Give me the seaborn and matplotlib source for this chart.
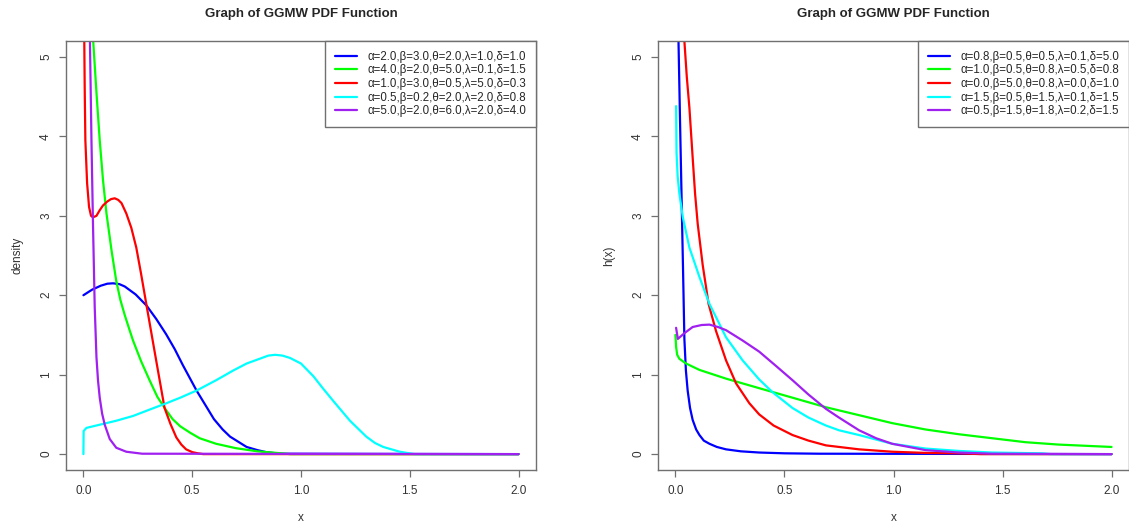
import matplotlib
matplotlib.use("Agg")
import matplotlib.pyplot as plt
import seaborn as sns

# ---- left panel: density curves ----
left_labels = [
    "α=2.0,β=3.0,θ=2.0,λ=1.0,δ=1.0",
    "α=4.0,β=2.0,θ=5.0,λ=0.1,δ=1.5",
    "α=1.0,β=3.0,θ=0.5,λ=5.0,δ=0.3",
    "α=0.5,β=0.2,θ=2.0,λ=2.0,δ=0.8",
    "α=5.0,β=2.0,θ=6.0,λ=2.0,δ=4.0",
]
l_blue_x = [0, 0.04, 0.08, 0.11, 0.136, 0.165, 0.19, 0.24, 0.29, 0.335, 0.38, 0.42, 0.457, 0.52, 0.56, 0.60, 0.64, 0.674, 0.75, 0.80, 0.84, 0.9, 2.0]
l_blue_y = [2.0, 2.07, 2.12, 2.145, 2.15, 2.14, 2.11, 2.01, 1.87, 1.70, 1.51, 1.32, 1.12, 0.80, 0.62, 0.44, 0.31, 0.22, 0.09, 0.05, 0.025, 0.005, 0]
l_green_x = [0.035, 0.045, 0.06, 0.075, 0.09, 0.106, 0.13, 0.151, 0.17, 0.19, 0.21, 0.228, 0.265, 0.304, 0.34, 0.381, 0.41, 0.445, 0.49, 0.534, 0.61, 0.70, 0.80, 0.91, 0.95, 2.0]
l_green_y = [5.8, 5.2, 4.55, 3.95, 3.45, 3.03, 2.55, 2.18, 1.94, 1.75, 1.58, 1.43, 1.17, 0.93, 0.72, 0.55, 0.44, 0.35, 0.27, 0.20, 0.13, 0.075, 0.035, 0.01, 0, 0]
l_red_x = [0.0, 0.004, 0.006, 0.009, 0.017, 0.026, 0.035, 0.044, 0.06, 0.075, 0.09, 0.11, 0.127, 0.144, 0.16, 0.175, 0.197, 0.22, 0.243, 0.265, 0.289, 0.335, 0.373, 0.40, 0.427, 0.45, 0.472, 0.50, 0.526, 0.55, 2.0]
l_red_y = [6.0, 5.2, 4.6, 3.95, 3.41, 3.11, 3.0, 2.98, 3.0, 3.07, 3.13, 3.18, 3.21, 3.22, 3.20, 3.16, 3.03, 2.85, 2.60, 2.27, 1.89, 1.17, 0.58, 0.38, 0.21, 0.12, 0.06, 0.025, 0.01, 0.0, 0]
l_cyan_x = [0.0, 0.001, 0.014, 0.075, 0.151, 0.228, 0.304, 0.381, 0.445, 0.52, 0.61, 0.687, 0.75, 0.79, 0.82, 0.85, 0.881, 0.915, 0.95, 1.0, 1.057, 1.1, 1.148, 1.225, 1.30, 1.34, 1.378, 1.454, 1.52, 2.0]
l_cyan_y = [0.0, 0.29, 0.33, 0.37, 0.42, 0.48, 0.56, 0.64, 0.71, 0.80, 0.93, 1.05, 1.14, 1.18, 1.21, 1.24, 1.25, 1.24, 1.21, 1.14, 0.98, 0.83, 0.67, 0.42, 0.22, 0.14, 0.09, 0.03, 0.0, 0.0]
l_purple_x = [0.025, 0.03, 0.037, 0.044, 0.052, 0.06, 0.067, 0.075, 0.086, 0.098, 0.121, 0.151, 0.197, 0.27, 2.0]
l_purple_y = [6.0, 5.2, 3.95, 2.9, 1.85, 1.22, 0.93, 0.71, 0.51, 0.37, 0.19, 0.08, 0.03, 0.005, 0]

# ---- right panel: hazard curves ----
right_labels = [
    "α=0.8,β=0.5,θ=0.5,λ=0.1,δ=5.0",
    "α=1.0,β=0.5,θ=0.8,λ=0.5,δ=0.8",
    "α=0.0,β=5.0,θ=0.8,λ=0.0,δ=1.0",
    "α=1.5,β=0.5,θ=1.5,λ=0.1,δ=1.5",
    "α=0.5,β=1.5,θ=1.8,λ=0.2,δ=1.5",
]
r_blue_x = [0.012, 0.014, 0.021, 0.028, 0.035, 0.041, 0.048, 0.056, 0.067, 0.079, 0.095, 0.11, 0.13, 0.156, 0.19, 0.232, 0.30, 0.384, 0.5, 0.66, 2.0]
r_blue_y = [5.5, 5.2, 4.2, 3.25, 2.3, 1.45, 1.05, 0.80, 0.58, 0.43, 0.31, 0.24, 0.17, 0.13, 0.09, 0.06, 0.035, 0.02, 0.01, 0.005, 0]
r_green_x = [0.0, 0.003, 0.008, 0.018, 0.049, 0.11, 0.232, 0.384, 0.537, 0.69, 0.842, 0.994, 1.147, 1.30, 1.452, 1.605, 1.757, 2.0]
r_green_y = [1.50, 1.35, 1.25, 1.20, 1.14, 1.06, 0.95, 0.83, 0.71, 0.59, 0.49, 0.39, 0.31, 0.25, 0.20, 0.15, 0.12, 0.09]
r_red_x = [0.035, 0.041, 0.052, 0.064, 0.079, 0.09, 0.102, 0.125, 0.152, 0.186, 0.232, 0.278, 0.339, 0.384, 0.45, 0.537, 0.61, 0.69, 0.842, 0.994, 1.15, 1.3, 1.4, 2.0]
r_red_y = [5.6, 5.2, 4.75, 4.36, 3.73, 3.28, 2.90, 2.38, 1.89, 1.55, 1.18, 0.89, 0.64, 0.50, 0.36, 0.24, 0.17, 0.11, 0.06, 0.03, 0.015, 0.01, 0.0, 0]
r_cyan_x = [0.003, 0.005, 0.01, 0.018, 0.034, 0.064, 0.11, 0.156, 0.232, 0.308, 0.384, 0.445, 0.537, 0.61, 0.69, 0.75, 0.842, 0.994, 1.147, 1.30, 1.45, 1.68, 1.72, 2.0]
r_cyan_y = [4.38, 3.8, 3.5, 3.28, 2.98, 2.60, 2.23, 1.89, 1.47, 1.18, 0.94, 0.78, 0.58, 0.46, 0.36, 0.30, 0.24, 0.13, 0.07, 0.04, 0.02, 0.01, 0.0, 0]
r_purple_x = [0.003, 0.011, 0.04, 0.079, 0.12, 0.156, 0.195, 0.232, 0.308, 0.384, 0.461, 0.537, 0.61, 0.69, 0.75, 0.842, 0.92, 0.994, 1.147, 1.30, 1.45, 2.0]
r_purple_y = [1.59, 1.45, 1.52, 1.60, 1.625, 1.63, 1.60, 1.56, 1.43, 1.29, 1.11, 0.93, 0.75, 0.57, 0.46, 0.30, 0.20, 0.13, 0.05, 0.02, 0.005, 0]

colors = ["#0000FF", "#00FF00", "#FF0000", "#00FFFF", "#A020F0"]
x_ticks = [0.0, 0.5, 1.0, 1.5, 2.0]
y_ticks = [0, 1, 2, 3, 4, 5]

sns.set_style("white")
plt.rcParams["font.family"] = ["Liberation Sans", "DejaVu Sans"]
grey = "#707070"

fig = plt.figure(figsize=(11.29, 5.29), dpi=100)
W, H = 1129, 529
ax1 = fig.add_axes([66 / W, (H - 470) / H, 470 / W, 429 / H])
ax2 = fig.add_axes([658 / W, (H - 470) / H, 471 / W, 429 / H])

panels = [
    (ax1, left_labels, [(l_blue_x, l_blue_y), (l_green_x, l_green_y), (l_red_x, l_red_y),
                        (l_cyan_x, l_cyan_y), (l_purple_x, l_purple_y)], "density"),
    (ax2, right_labels, [(r_blue_x, r_blue_y), (r_green_x, r_green_y), (r_red_x, r_red_y),
                         (r_cyan_x, r_cyan_y), (r_purple_x, r_purple_y)], "h(x)"),
]

for ax, labels, curves, ylab in panels:
    for (xs, ys), c, lab in zip(curves, colors, labels):
        sns.lineplot(x=xs, y=ys, color=c, label=lab, sort=False, estimator=None,
                     errorbar=None, linewidth=1.6, ax=ax)
    ax.set_xlim(-0.08, 2.08)
    ax.set_ylim(-0.2, 5.2)
    ax.set_xticks(x_ticks)
    ax.set_xticklabels([f"{t:.1f}" for t in x_ticks])
    ax.set_yticks(y_ticks)
    ax.set_yticklabels([str(t) for t in y_ticks], rotation=90, va="center")
    ax.tick_params(axis="both", bottom=True, left=True, direction="out", length=5,
                   width=0.9, color=grey, labelsize=8.5, labelcolor="#333333", pad=6)
    ax.tick_params(axis="y", pad=5)
    for s in ax.spines.values():
        s.set_color(grey)
        s.set_linewidth(1.0)
    ax.set_title("Graph of GGMW PDF Function", fontsize=9.5, fontweight="bold", pad=17)
    ax.set_xlabel("x", fontsize=8.5, color="#333333")
    ax.set_ylabel(ylab, fontsize=8.5, color="#333333")
    ax.xaxis.set_label_coords(0.5, -0.098)
    ax.yaxis.set_label_coords(-0.09, 0.5)
    leg = ax.legend(loc="upper right", fontsize=8.3, frameon=True, fancybox=False,
                    borderaxespad=0, borderpad=0.85, handlelength=1.9,
                    handletextpad=0.9, labelspacing=0.14, framealpha=1)
    leg.get_frame().set_edgecolor(grey)
    leg.get_frame().set_linewidth(1.0)

fig.savefig("out.png", dpi=100)
